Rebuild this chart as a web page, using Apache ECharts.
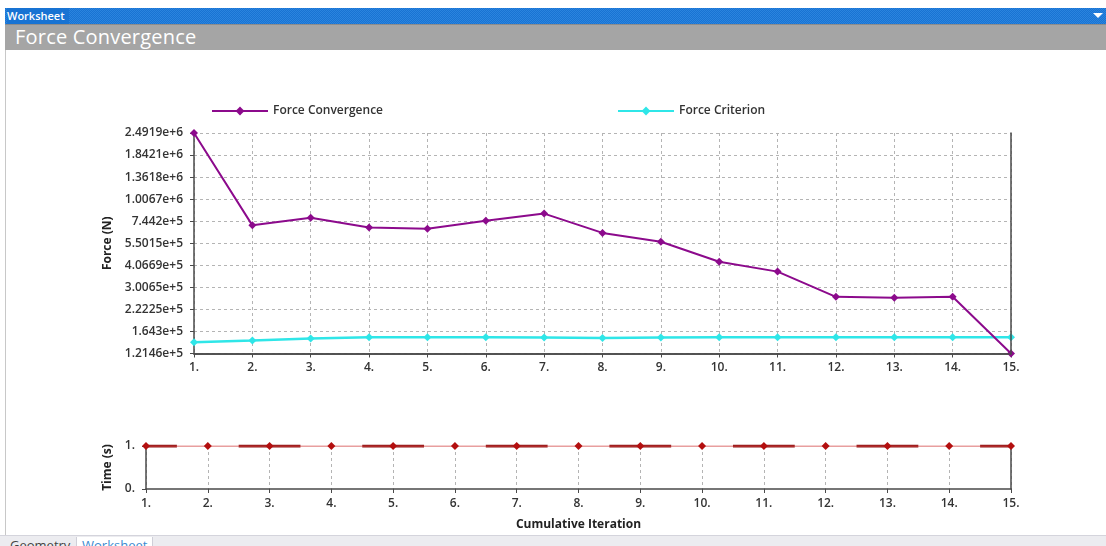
<!DOCTYPE html>
<html>
<head>
<meta charset="utf-8">
<script src="https://cdn.jsdelivr.net/npm/echarts@6/dist/echarts.min.js"></script>
<style>
  html, body { margin:0; padding:0; width:1106px; height:546px; overflow:hidden; background:#fff; font-family:"Open Sans", "DejaVu Sans", sans-serif; }
  #blue { position:absolute; left:5px; top:8px; width:1101px; height:16px;
    background-color:#1873d3;
    background-image: repeating-conic-gradient(#2b84de 0 25%, #1873d3 0 50%);
    background-size: 2px 2px; }
  #blue span { position:absolute; left:2px; top:0px; color:#fff; font-size:11px; font-weight:600; line-height:16px; background:#1873d3; padding-right:4px; }
  #tri { position:absolute; right:3px; top:5px; width:0; height:0; border-left:5px solid transparent; border-right:5px solid transparent; border-top:5px solid #fff; }
  #gray { position:absolute; left:5px; top:24px; width:1101px; height:26px; background:#a5a5a5; border-top:1px solid #8c8c8c; box-sizing:border-box; }
  #gray span { position:absolute; left:10px; top:0px; color:#fff; font-size:20px; line-height:24px; letter-spacing:0.2px; }
  #lborder { position:absolute; left:5px; top:50px; width:1px; height:485px; background:#c8c8c8; }
  #tabs { position:absolute; left:0; top:535px; width:1106px; height:11px; background:#ececf0; border-top:1px solid #d4d4dc; box-sizing:border-box; }
  #tabs .t { position:absolute; top:1px; font-size:13px; line-height:16px; }
  #tabs .g { left:10px; color:#444; }
  #tabs .w { left:76px; color:#3a8ad0; background:#fff; border-left:1px solid #cfcfd8; border-right:1px solid #cfcfd8; padding:0 5px; }
  #chart { position:absolute; left:0; top:0; width:1106px; height:546px; }
</style>
</head>
<body>
<div id="blue"><span>Worksheet</span><div id="tri"></div></div>
<div id="gray"><span>Force Convergence</span></div>
<div id="lborder"></div>
<div id="tabs"><span class="t g">Geometry</span><span class="t w">Worksheet</span></div>
<div id="chart"></div>
<script>
// ---- data ----
const iterations = [1, 2, 3, 4, 5, 6, 7, 8, 9, 10, 11, 12, 13, 14, 15];
const forceConvergence = [2.4919e6, 7.03e5, 7.80e5, 6.82e5, 6.72e5, 7.49e5, 8.26e5, 6.34e5, 5.62e5, 4.27e5, 3.73e5, 2.64e5, 2.61e5, 2.64e5, 1.2146e5];
const forceCriterion = [1.415e5, 1.45e5, 1.49e5, 1.515e5, 1.515e5, 1.515e5, 1.51e5, 1.50e5, 1.51e5, 1.515e5, 1.515e5, 1.515e5, 1.515e5, 1.515e5, 1.515e5];
const timeValues = [1, 1, 1, 1, 1, 1, 1, 1, 1, 1, 1, 1, 1, 1, 1];
const forceTicks = [1.2146e5, 1.643e5, 2.2225e5, 3.0065e5, 4.0669e5, 5.5015e5, 7.442e5, 1.0067e6, 1.3618e6, 1.8421e6, 2.4919e6];
const timeTicks = [0, 1];

// map a force value onto the (log-spaced) tick index scale
function toTickScale(v) {
  const t = forceTicks;
  if (v <= t[0]) return Math.log(v / t[0]) / Math.log(t[1] / t[0]);
  for (let i = 0; i < t.length - 1; i++) {
    if (v <= t[i + 1]) return i + Math.log(v / t[i]) / Math.log(t[i + 1] / t[i]);
  }
  const n = t.length - 1;
  return n + Math.log(v / t[n]) / Math.log(t[n] / t[n - 1]);
}
const fcData = iterations.map((x, i) => [x, toTickScale(forceConvergence[i])]);
const crData = iterations.map((x, i) => [x, toTickScale(forceCriterion[i])]);
const timeData = iterations.map((x, i) => [x, timeValues[i]]);
// alternate step shading on the time line: centred on odd iterations
const stepSegs = [];
const xMin = iterations[0], xMax = iterations[iterations.length - 1];
iterations.forEach((x, i) => {
  if (x % 2 === 1) {
    stepSegs.push([Math.max(xMin, x - 0.5), timeValues[i]]);
    stepSegs.push([Math.min(xMax, x + 0.5), timeValues[i]]);
    stepSegs.push([Math.min(xMax, x + 0.5), '-']);
  }
});

const FONT = '"Open Sans", "DejaVu Sans", sans-serif';
const axisLineStyle = { color: '#4a4a4a', width: 1.5 };
const labelStyle = { color: '#333', fontFamily: FONT, fontSize: 12, fontWeight: 600 };
const dashed = { show: true, lineStyle: { color: '#b4b4b4', type: [3, 3], width: 1 } };
const borderAxis = { axisLine: { show: true, lineStyle: axisLineStyle }, axisTick: { show: false }, axisLabel: { show: false }, splitLine: { show: false }, z: 5 };

const chart = echarts.init(document.getElementById('chart'), null, { renderer: 'canvas' });
chart.setOption({
  animation: false,
  backgroundColor: 'transparent',
  legend: [
    { data: ['Force Convergence'], left: 206, top: 100, itemWidth: 56, itemHeight: 11,
      textStyle: labelStyle, selectedMode: false },
    { data: ['Force Criterion'], left: 612, top: 100, itemWidth: 56, itemHeight: 11,
      textStyle: labelStyle, selectedMode: false }
  ],
  grid: [
    { left: 194, right: 95, top: 133, height: 220.5, containLabel: false },
    { left: 146, right: 95, top: 446, height: 43, containLabel: false }
  ],
  xAxis: [
    { type: 'value', gridIndex: 0, min: xMin, max: xMax, interval: 1,
      axisLine: { show: true, lineStyle: axisLineStyle },
      axisTick: { show: true, length: 4, lineStyle: { color: '#4a4a4a' } },
      axisLabel: Object.assign({ margin: 8, formatter: v => v + '.' }, labelStyle),
      splitLine: dashed },
    { type: 'value', gridIndex: 1, min: xMin, max: xMax, interval: 1,
      name: 'Cumulative Iteration', nameLocation: 'middle', nameGap: 30,
      nameTextStyle: { color: '#222', fontFamily: FONT, fontSize: 12, fontWeight: 'bold' },
      axisLine: { show: true, lineStyle: axisLineStyle },
      axisTick: { show: true, length: 4, lineStyle: { color: '#4a4a4a' } },
      axisLabel: Object.assign({ margin: 9, formatter: v => v + '.' }, labelStyle),
      splitLine: dashed },
    Object.assign({ type: 'value', gridIndex: 0, position: 'top', min: xMin, max: xMax, interval: 1 }, borderAxis)
  ],
  yAxis: [
    { type: 'value', gridIndex: 0, min: 0, max: forceTicks.length - 1, interval: 1,
      name: 'Force (N)', nameLocation: 'middle', nameGap: 71, nameRotate: 90,
      nameTextStyle: { color: '#222', fontFamily: FONT, fontSize: 12, fontWeight: 'bold' },
      axisLine: { show: true, lineStyle: axisLineStyle },
      axisTick: { show: true, length: 4, lineStyle: { color: '#4a4a4a' } },
      axisLabel: Object.assign({ margin: 11, formatter: v => forceTicks[Math.round(v)].toExponential() }, labelStyle),
      splitLine: dashed },
    { type: 'value', gridIndex: 1, min: timeTicks[0], max: timeTicks[1], interval: 1,
      name: 'Time (s)', nameLocation: 'middle', nameGap: 21, nameRotate: 90,
      nameTextStyle: { color: '#222', fontFamily: FONT, fontSize: 12, fontWeight: 'bold' },
      axisLine: { show: true, lineStyle: axisLineStyle },
      axisTick: { show: true, length: 4, lineStyle: { color: '#4a4a4a' } },
      axisLabel: Object.assign({ margin: 11, formatter: v => v + '.' }, labelStyle),
      splitLine: { show: false } },
    Object.assign({ type: 'value', gridIndex: 1, position: 'right', min: timeTicks[0], max: timeTicks[1], interval: 1 }, borderAxis),
    Object.assign({ type: 'value', gridIndex: 0, position: 'right', min: 0, max: forceTicks.length - 1, interval: 1 }, borderAxis)
  ],
  series: [
    { name: 'Force Convergence', type: 'line', xAxisIndex: 0, yAxisIndex: 0, data: fcData,
      color: '#8c0a8c', lineStyle: { width: 2, color: '#8c0a8c' },
      symbol: 'diamond', symbolSize: 8, itemStyle: { color: '#8c0a8c' }, z: 4 },
    { name: 'Force Criterion', type: 'line', xAxisIndex: 0, yAxisIndex: 0, data: crData,
      color: '#2fe6e8', lineStyle: { width: 2.5, color: '#2fe6e8' },
      symbol: 'diamond', symbolSize: 8, itemStyle: { color: '#2fe6e8' }, z: 3 },
    { name: 'Step', type: 'line', xAxisIndex: 1, yAxisIndex: 1, data: stepSegs,
      lineStyle: { width: 3, color: '#8e1515' }, symbol: 'none', silent: true, z: 2 },
    { name: 'Time', type: 'line', xAxisIndex: 1, yAxisIndex: 1, data: timeData,
      lineStyle: { width: 1, color: '#d24040' },
      symbol: 'diamond', symbolSize: 8, itemStyle: { color: '#b30f0f' }, z: 5 }
  ]
});
</script>
</body>
</html>
